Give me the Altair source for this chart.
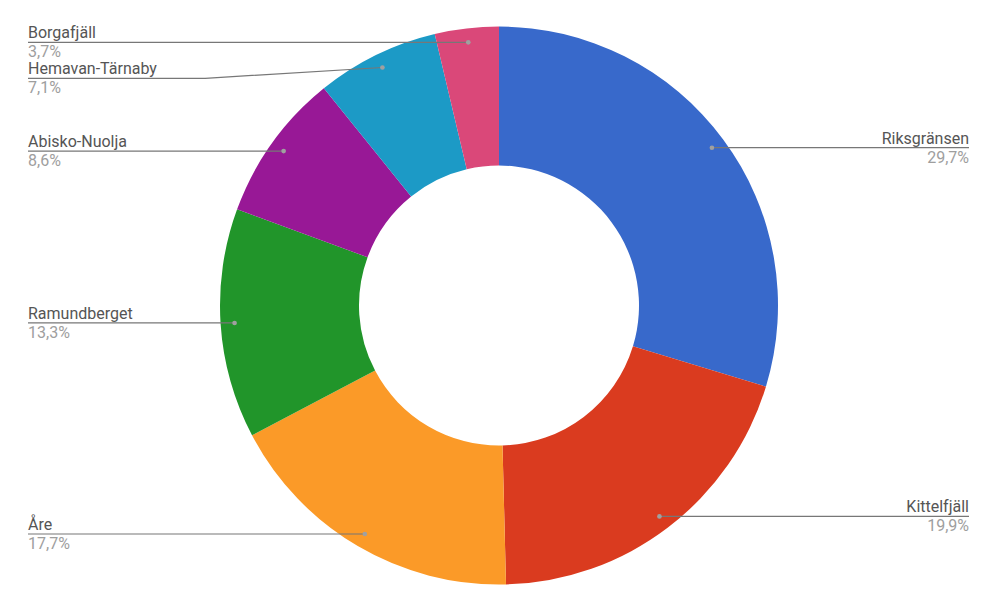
import altair as alt
import numpy as np
import pandas as pd

names = ["Riksgränsen", "Kittelfjäll", "Åre", "Ramundberget",
         "Abisko-Nuolja", "Hemavan-Tärnaby", "Borgafjäll"]
values = [29.7, 19.9, 17.7, 13.3, 8.6, 7.1, 3.7]
pct_labels = ["29,7%", "19,9%", "17,7%", "13,3%", "8,6%", "7,1%", "3,7%"]
colors = ["#3869CB", "#DA3B1F", "#FB9A28", "#21952A", "#981896", "#1C9AC6", "#DA4879"]

W, H = 984, 594
CX, CY = 491, 297.5
R_OUT, R_IN, R_DOT = 279, 140, 265
X_LEFT, X_RIGHT = 20, 961
GAP = 36

# slices
df = pd.DataFrame({"name": names, "value": values, "order": range(len(names))})

# label geometry derived from the values
vals = np.array(values)
cum = np.cumsum(vals) - vals / 2
ang = cum / vals.sum() * 2 * np.pi
dx = CX + R_DOT * np.sin(ang)
dy = CY - R_DOT * np.cos(ang)
side = np.where(np.sin(ang) > 0, "right", "left")
ly = dy.copy()
for s in ["left", "right"]:
    idx = [i for i in np.argsort(dy) if side[i] == s]
    prev = -1e9
    for i in idx:
        ly[i] = max(dy[i], prev + GAP)
        prev = ly[i]

lab = pd.DataFrame({
    "name": names, "pct": pct_labels, "side": side,
    "dotx": dx, "doty": dy, "ly": ly,
    "lx": np.where(side == "left", X_LEFT, X_RIGHT),
})
lab["ny"] = lab["ly"] - 4
lab["py"] = lab["ly"] + 15

rows = []
for _, r in lab.iterrows():
    elbow = (r.lx + r.dotx) / 2
    rows += [
        {"name": r["name"], "k": 0, "x": r.lx, "y": r.ly},
        {"name": r["name"], "k": 1, "x": elbow, "y": r.ly},
        {"name": r["name"], "k": 2, "x": r.dotx, "y": r.doty},
    ]
lines = pd.DataFrame(rows)

arc = alt.Chart(df).mark_arc(outerRadius=R_OUT, innerRadius=R_IN).encode(
    theta=alt.Theta("value:Q", stack=True),
    color=alt.Color("name:N", scale=alt.Scale(domain=names, range=colors), legend=None),
    order=alt.Order("order:Q"),
    x=alt.value(CX), y=alt.value(CY),
)

leader = alt.Chart(lines).mark_line(color="#777777", strokeWidth=1.2).encode(
    x=alt.X("x:Q", scale=None), y=alt.Y("y:Q", scale=None),
    detail="name:N", order="k:Q",
)

dots = alt.Chart(lab).mark_circle(size=22, color="#a0a0a0", opacity=1).encode(
    x=alt.X("dotx:Q", scale=None), y=alt.Y("doty:Q", scale=None),
)

layers = [arc, leader, dots]
for s, al in [("left", "left"), ("right", "right")]:
    base = alt.Chart(lab).transform_filter(alt.datum.side == s)
    layers.append(base.mark_text(align=al, baseline="alphabetic", font="Roboto",
                                 fontSize=16, color="#555555").encode(
        x=alt.X("lx:Q", scale=None), y=alt.Y("ny:Q", scale=None), text="name:N"))
    layers.append(base.mark_text(align=al, baseline="alphabetic", font="Roboto",
                                 fontSize=16, color="#9e9e9e").encode(
        x=alt.X("lx:Q", scale=None), y=alt.Y("py:Q", scale=None), text="pct:N"))

chart = alt.layer(*layers).properties(
    width=W, height=H, padding=0, autosize=alt.AutoSizeParams(type="none")
).configure_view(stroke=None)

chart.save("out.html", embed_options={"renderer": "svg", "actions": False})
